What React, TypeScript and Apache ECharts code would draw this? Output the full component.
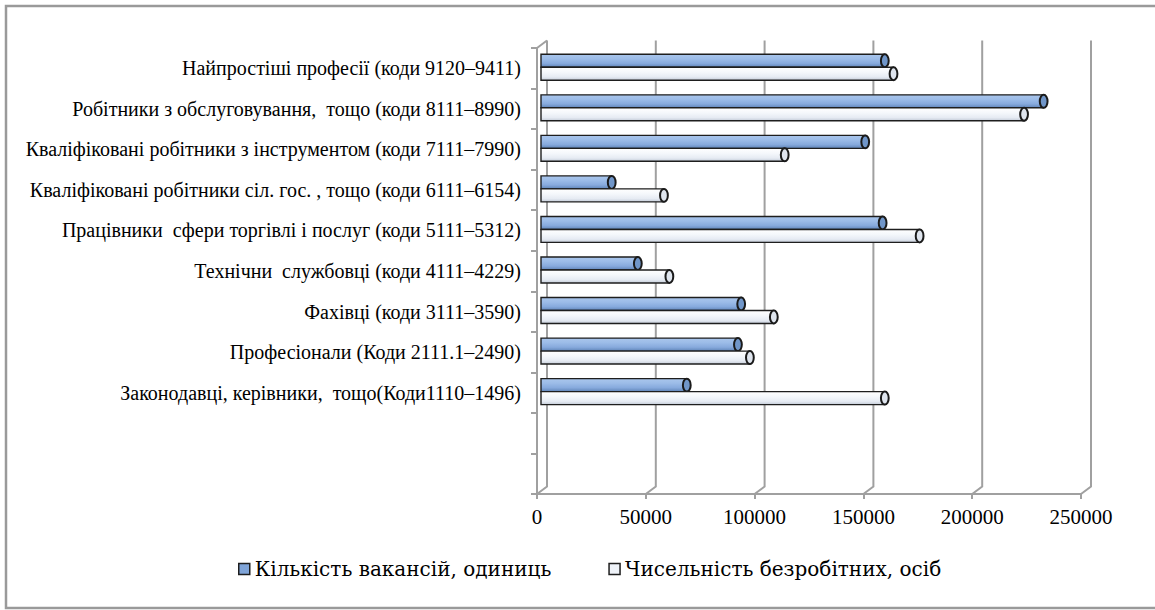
import React, { useEffect, useRef } from "react";
import * as echarts from "echarts";

// Categories listed top-to-bottom as in the reference
const categories: string[] = [
  "Найпростіші професії (коди 9120–9411)",
  "Робітники з обслуговування,  тощо (коди 8111–8990)",
  "Кваліфіковані робітники з інструментом (коди 7111–7990)",
  "Кваліфіковані робітники сіл. гос. , тощо (коди 6111–6154)",
  "Працівники  сфери торгівлі і послуг (коди 5111–5312)",
  "Технічни  службовці (коди 4111–4229)",
  "Фахівці (коди 3111–3590)",
  "Професіонали (Коди 2111.1–2490)",
  "Законодавці, керівники,  тощо(Коди1110–1496)",
];

const vacancies: number[] = [158000, 231000, 149000, 32500, 157000, 44500, 92000, 90500, 67000];
const unemployed: number[] = [162000, 222000, 112000, 56500, 174000, 59000, 107000, 96000, 158000];

const seriesNames: string[] = ["Кількість вакансій, одиниць", "Чисельність безробітних, осіб"];

const xTicks: number[] = [0, 50000, 100000, 150000, 200000, 250000];

const emptySlots = 2; // empty category rows below the data

const FONT = "Liberation Serif";
const LEGEND_FONT = "DejaVu Serif";
const GRID_GRAY = "#a0a0a0";
const DX = 10;
const DY = 7.5;

function App() {
  const ref = useRef<HTMLDivElement>(null);

  useEffect(() => {
    if (!ref.current) return;
    const chart = echarts.init(ref.current, undefined, { renderer: "svg" });

    const n = categories.length;
    const yData: string[] = [];
    for (let i = 0; i < emptySlots; i++) yData.push("");
    for (let i = n - 1; i >= 0; i--) yData.push(categories[i]);
    const catIndex = (i: number) => emptySlots + (n - 1 - i);

    const palettes = [
      {
        fill: [
          { offset: 0, color: "#aac6ec" },
          { offset: 0.35, color: "#9cbce8" },
          { offset: 0.7, color: "#87aadd" },
          { offset: 1, color: "#5f84b8" },
        ],
        cap: "#7096c9",
        legend: "#7fa4d8",
      },
      {
        fill: [
          { offset: 0, color: "#ffffff" },
          { offset: 0.4, color: "#f4f7fb" },
          { offset: 0.75, color: "#e6ebf3" },
          { offset: 1, color: "#c4ccd8" },
        ],
        cap: "#dfe5ee",
        legend: "#eef2f8",
      },
    ];

    const makeBarRenderer = (slot: number) => (params: any, api: any) => {
      const v = api.value(0);
      const c = api.value(1);
      const end = api.coord([v, c]);
      const start = api.coord([0, c]);
      const bh = api.size([0, 1])[1];
      const h = bh * 0.32;
      const top = end[1] - bh * 0.345 + slot * h;
      const x0 = start[0] + 4;
      const x1 = end[0] + 4;
      const pal = palettes[slot];
      return {
        type: "group",
        children: [
          {
            type: "rect",
            shape: { x: x0, y: top, width: x1 - x0, height: h },
            style: {
              fill: { type: "linear", x: 0, y: 0, x2: 0, y2: 1, colorStops: pal.fill },
              stroke: "#1e1e1e",
              lineWidth: 1.4,
            },
          },
          {
            type: "ellipse",
            shape: { cx: x1, cy: top + h / 2, rx: h * 0.3, ry: h / 2 },
            style: { fill: pal.cap, stroke: "#1a1a1a", lineWidth: 2 },
          },
        ],
      };
    };

    const gridRenderer = (params: any, api: any) => {
      const v = api.value(0);
      const cs = params.coordSys;
      const x = api.coord([v, 0])[0];
      const yb = cs.y + cs.height;
      const children: any[] = [
        {
          type: "polyline",
          shape: { points: [[x, yb], [x + DX, yb - DY], [x + DX, cs.y - DY]] },
          style: { stroke: GRID_GRAY, lineWidth: 2, fill: null },
        },
      ];
      if (v === 0) {
        children.push({
          type: "line",
          shape: { x1: x, y1: cs.y, x2: x + DX, y2: cs.y - DY },
          style: { stroke: GRID_GRAY, lineWidth: 2 },
        });
      }
      return { type: "group", children };
    };

    const option: any = {
      animation: false,
      backgroundColor: "#ffffff",
      graphic: [
        {
          type: "rect",
          shape: { x: 6, y: 6, width: 1170, height: 602 },
          style: { fill: null, stroke: "#9a9a9a", lineWidth: 2.5 },
          silent: true,
        },
      ],
      grid: { left: 537, top: 48, width: 544, height: 446, containLabel: false },
      xAxis: {
        type: "value",
        min: xTicks[0],
        max: xTicks[xTicks.length - 1],
        interval: xTicks[1] - xTicks[0],
        axisLine: { show: true, lineStyle: { color: GRID_GRAY, width: 2 } },
        axisTick: { show: true, length: 5, lineStyle: { color: GRID_GRAY, width: 2 } },
        splitLine: { show: false },
        axisLabel: {
          color: "#000",
          fontFamily: FONT,
          fontSize: 21,
          margin: 12,
          formatter: (v: number) => String(v),
        },
      },
      yAxis: {
        type: "category",
        data: yData,
        axisLine: { show: true, lineStyle: { color: GRID_GRAY, width: 2 } },
        axisTick: { show: true, length: 6, lineStyle: { color: GRID_GRAY, width: 2 } },
        splitLine: { show: false },
        axisLabel: { color: "#000", fontFamily: FONT, fontSize: 20, margin: 16, interval: 0 },
      },
      legend: {
        left: 233,
        top: 554,
        itemWidth: 11,
        itemHeight: 11,
        itemGap: 57,
        textStyle: { color: "#000", fontFamily: LEGEND_FONT, fontSize: 20 },
        data: seriesNames.map((name, i) => ({
          name,
          icon: "rect",
          itemStyle: { color: palettes[i].legend, borderColor: "#1e1e1e", borderWidth: 1.5 },
        })),
      },
      series: [
        {
          name: "grid",
          type: "custom",
          silent: true,
          z: 1,
          renderItem: gridRenderer,
          data: xTicks.map((v) => [v, 0]),
        },
        ...[vacancies, unemployed].map((vals, s) => ({
          name: seriesNames[s],
          type: "custom",
          z: 3,
          itemStyle: { color: palettes[s].legend, borderColor: "#1e1e1e" },
          renderItem: makeBarRenderer(s),
          encode: { x: 0, y: 1 },
          data: vals.map((v, i) => [v, catIndex(i)]),
        })),
      ],
    };

    chart.setOption(option);
    return () => chart.dispose();
  }, []);

  return (
    <div
      ref={ref}
      style={{ position: "fixed", left: 0, top: 0, width: 1155, height: 610, background: "#fff" }}
    />
  );
}

export default App;
